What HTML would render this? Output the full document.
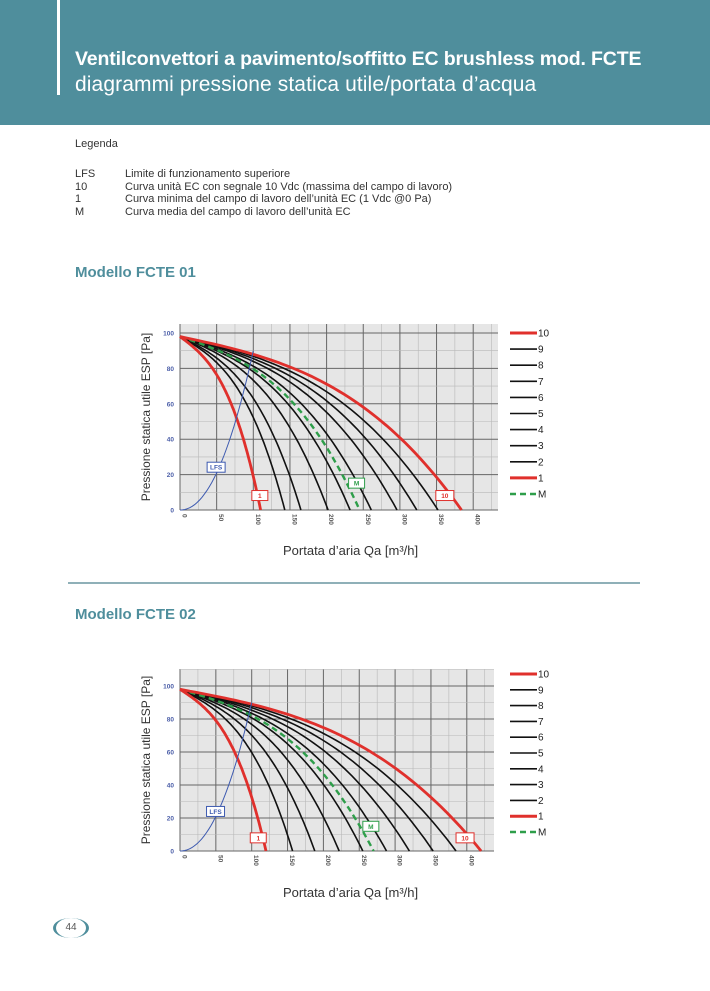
<!DOCTYPE html>
<html><head><meta charset="utf-8">
<style>
body{margin:0;width:710px;height:991px;background:#fff;font-family:"Liberation Sans",sans-serif;overflow:hidden;position:relative}
.hdr{position:absolute;left:0;top:0;width:710px;height:125px;background:#4f8e9c}
.vl{position:absolute;left:57px;top:0;width:3px;height:95px;background:#fff}
.t1{position:absolute;left:75px;top:48px;color:#fff;font-size:19.5px;font-weight:bold;letter-spacing:-0.15px;white-space:nowrap}
.t2{position:absolute;left:75px;top:73px;color:#fff;font-size:21px;letter-spacing:0.1px;white-space:nowrap}
.tx{position:absolute;font-size:11px;color:#333;white-space:nowrap}
.mh{position:absolute;left:75px;font-size:15px;font-weight:bold;color:#4f8e9c}
svg{position:absolute;left:0;top:0}
</style></head><body>
<div class="hdr"></div><div class="vl"></div>
<div class="t1">Ventilconvettori a pavimento/soffitto EC brushless mod. FCTE</div>
<div class="t2">diagrammi pressione statica utile/portata d’acqua</div>
<div class="tx" style="left:75px;top:138px">Legenda</div>
<div class="tx" style="left:75px;top:168px;line-height:12.5px">LFS<br>10<br>1<br>M</div>
<div class="tx" style="left:125px;top:168px;line-height:12.5px">Limite di funzionamento superiore<br>Curva unità EC con segnale 10 Vdc (massima del campo di lavoro)<br>Curva minima del campo di lavoro dell’unità EC (1 Vdc @0 Pa)<br>Curva media del campo di lavoro dell’unità EC</div>
<div class="mh" style="top:264px">Modello FCTE 01</div>
<div class="mh" style="top:606px">Modello FCTE 02</div>
<div style="position:absolute;left:68px;top:582px;width:572px;height:2px;background:#8fb0b8"></div>
<div class="tx" style="left:283px;top:543px;font-size:13px">Portata d’aria Qa [m³/h]</div>
<div class="tx" style="left:283px;top:885px;font-size:13px">Portata d’aria Qa [m³/h]</div>
<div style="position:absolute;left:53px;top:918px;width:36px;height:20px;border-left:3px solid #4f8e9c;border-right:3px solid #4f8e9c;border-radius:50%;box-sizing:border-box;font-size:10px;color:#555;text-align:center;line-height:20px">44</div>
<svg id="s" width="710" height="991" xmlns="http://www.w3.org/2000/svg"></svg>
<script>
var s=document.getElementById('s'),h='';
function chart(o){
 var L=180,R=o.R,T=o.T,y0=o.y0,y100=o.y100,kx=o.kx;
 var X=function(v){return L+v*kx},Y=function(p){return y0+(y100-y0)*p/100};
 h+='<rect x="'+L+'" y="'+T+'" width="'+(R-L)+'" height="'+(y0-T)+'" fill="#e6e6e6"/>';
 for(var v=0;X(v)<=R;v+=25){h+='<line x1="'+X(v)+'" x2="'+X(v)+'" y1="'+T+'" y2="'+y0+'" stroke="'+(v%50?'#b8b8b8':'#666')+'" stroke-width="'+(v%50?0.6:1)+'"/>';}
 for(var p=0;Y(p)>=T;p+=10){h+='<line x1="'+L+'" x2="'+R+'" y1="'+Y(p)+'" y2="'+Y(p)+'" stroke="'+(p%20?'#b8b8b8':'#666')+'" stroke-width="'+(p%20?0.6:1)+'"/>';}
 for(var p=0;p<=100;p+=20)h+='<text x="'+(L-6)+'" y="'+(Y(p)+2.5)+'" font-size="6.5" font-weight="bold" fill="#4b5ea8" text-anchor="end">'+p+'</text>';
 for(var v=0;v<=400;v+=50)h+='<text transform="translate('+(X(v)+2.5)+','+(y0+4)+') rotate(90)" font-size="6.5" font-weight="bold" fill="#555">'+v+'</text>';
 function curve(E,col,w,dash){var d='';for(var i=0;i<=60;i++){var t=i/60,p=98*(1-(0.35*t+0.65*t*t*t));d+=(i?'L':'M')+X(E*t).toFixed(1)+','+Y(p).toFixed(1);}
  h+='<path d="'+d+'" fill="none" stroke="'+col+'" stroke-width="'+w+'"'+(dash?' stroke-dasharray="6,4"':'')+'/>';}
 var e=o.e;
 for(var i=1;i<9;i++)curve(e[i],'#111',1.6);
 curve(o.m,'#2e9e4a',2.4,1);
 curve(e[0],'#e0302c',2.8);curve(e[9],'#e0302c',2.8);
 var d='';for(var i=0;i<=30;i++){var v=100*i/30;d+=(i?'L':'M')+X(v).toFixed(1)+','+Y(90*Math.pow(v/100,2.1)).toFixed(1);}
 h+='<path d="'+d+'" fill="none" stroke="#3d5ab0" stroke-width="1"/>';
 function lab(x,y,t,c,w){h+='<rect x="'+x+'" y="'+y+'" width="'+w+'" height="10" fill="#fff" stroke="'+c+'" stroke-width="1"/><text x="'+(x+w/2)+'" y="'+(y+7.5)+'" font-size="6.5" font-weight="bold" fill="'+c+'" text-anchor="middle">'+t+'</text>';}
 lab(X(37),Y(27),'LFS','#3d5ab0',18);lab(X(98),Y(11),'1','#e0302c',16);lab(X(o.m-15),Y(18),'M','#2e9e4a',16);lab(X(e[9]-35),Y(11),'10','#e0302c',18);
 var labs=['10','9','8','7','6','5','4','3','2','1','M'];
 for(var i=0;i<11;i++){var yy=o.ly+i*o.ls,c=(i==0||i==9)?'#e0302c':(i==10?'#2e9e4a':'#111');
  h+='<line x1="510" x2="537" y1="'+yy+'" y2="'+yy+'" stroke="'+c+'" stroke-width="'+((i==0||i==9)?3:(i==10?2.5:1.6))+'"'+(i==10?' stroke-dasharray="6,4"':'')+'/>';
  h+='<text x="538" y="'+(yy+3.5)+'" font-size="10" fill="#222">'+labs[i]+'</text>';}
 h+='<text transform="translate('+(o.yt)+','+((T+y0)/2)+') rotate(-90)" font-size="12" fill="#333" text-anchor="middle">Pressione statica utile ESP [Pa]</text>';
}
chart({R:498,T:324,y0:510,y100:333,kx:0.733,e:[110,143,165,202,232,261,296,323,352,384],m:245,ly:333,ls:16.1,yt:150});
chart({R:494,T:669,y0:851,y100:686,kx:0.717,e:[120,157,188,222,255,288,320,353,385,420],m:270,ly:674,ls:15.8,yt:150});
s.innerHTML=h;
</script>
</body></html>
